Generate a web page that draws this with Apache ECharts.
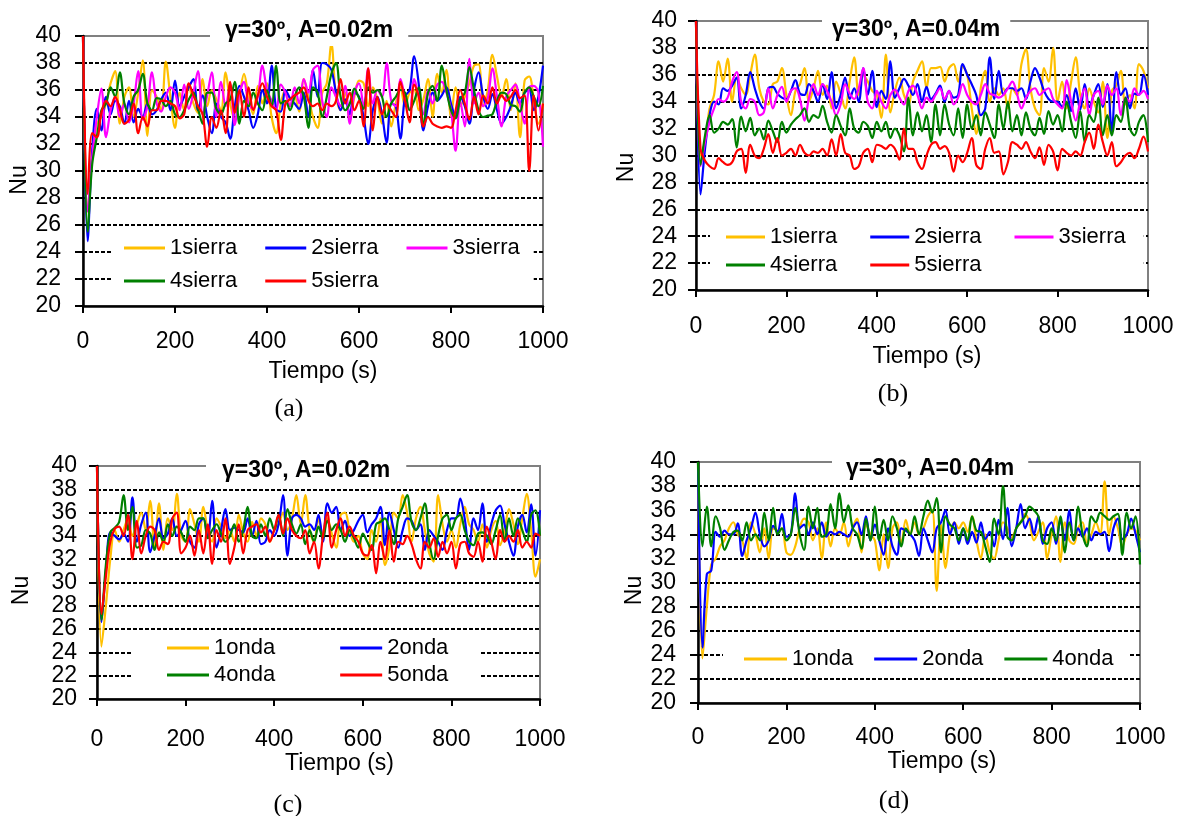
<!DOCTYPE html>
<html>
<head>
<meta charset="utf-8">
<script src="https://cdn.jsdelivr.net/npm/echarts@6/dist/echarts.min.js"></script>
<style>
html,body{margin:0;padding:0;background:#fff;}
#chart{width:1177px;height:816px;}
</style>
</head>
<body>
<div id="chart"></div>
<script>
// ---- sampling times (s) ----
const TIME = Array.from({length: 101}, (_, i) => i * 10);

// ---- axis ticks ----
const X_MIN = 0, X_MAX = 1000, X_STEP = 200;
const Y_MIN = 20, Y_MAX = 40, Y_STEP = 2;

// ---- titles / labels ----
const PANEL_TITLES = ['γ=30º, A=0.02m', 'γ=30º, A=0.04m', 'γ=30º, A=0.02m', 'γ=30º, A=0.04m'];
const PANEL_CAPTIONS = ['(a)', '(b)', '(c)', '(d)'];
const X_NAME = 'Tiempo (s)';
const Y_NAME = 'Nu';
const SIERRA_NAMES = ['1sierra', '2sierra', '3sierra', '4sierra', '5sierra'];
const ONDA_NAMES = ['1onda', '2onda', '4onda', '5onda'];

// ---- (a) sierra, A=0.02m ----
const A_1SIERRA = [
40,27,31,33.5,34,35,36.5,37.4,33.5,35.5,
36.2,34,35.8,38.2,32.6,36,35.5,34.5,38.1,35.5,
33.2,35.8,34.5,36.3,35,34.3,36.8,34.8,36,35.3,
34.5,37.3,35,33.8,35.5,37.2,35.5,34.2,36.3,35,
36.5,34,32.8,35,36,34.8,35.5,34.4,36.8,35.5,
34,33.2,35.8,36.5,39.4,35.5,34.5,35.8,33.7,35.5,
36.7,36.5,34.8,36.2,35.3,33.5,35.2,33.3,35,36.2,
34.8,35.8,36,34.5,35.3,36.8,34,37.2,35.8,37.5,
34,36.2,34.8,35.5,36.5,37.8,37.9,34.8,36,38.6,
37,35.5,36.8,34.5,36.5,32.5,36.7,37,35.3,33.5,
35];
const A_2SIERRA = [
40,24.8,31.5,34.6,33,35.5,34.2,35.2,34.8,33.5,
35.2,33.6,34.6,34,35,34.2,34.5,35.3,35.8,34.5,
36.7,34.8,35.5,36.2,36.8,34.5,35.6,34,32.8,35,
34,33.6,32.4,34.8,36.3,35.5,34.5,33.2,34.2,36,
35,37.8,34.6,34.4,36,35.4,35,34.6,35.8,34,
37.5,35.5,38,37.9,37.5,35.8,34.5,35.3,34.2,35.8,
35.5,34,32,34.5,35.5,34.2,32.1,35,34.8,32.4,
35.5,36,38.5,36.4,33,34.8,35.8,35.2,35.6,36.2,
35,34,35.5,34.8,33.5,36,37.3,35.5,34.6,35.7,
34.5,33.5,34,34.8,35.8,35,35.8,36,34.5,35.5,
37.8];
const A_3SIERRA = [
40,27,31,34,36.1,32.5,34.5,35.5,34,35,
33.6,35,37.4,33.8,34.8,37.3,35,34.4,35.5,36.2,
35.8,34.5,36.4,34.6,35.8,37.4,34.2,35.6,37.3,34,
36.6,34.8,36.4,33.4,35.7,36.6,35,34.6,35.5,37.8,
36,35.2,34.5,36.4,35.8,34.8,36.2,35,36.8,35.8,
37.5,37.8,35.2,34,36.2,35.5,34.8,36.3,33.5,35.8,
36.5,34.8,37.6,35,36,35.5,38,35.2,34.8,36.8,
35.5,34.5,36.8,35.5,34.2,36,35,36.4,36.6,35.8,
34.5,31.5,35.2,33.3,38.3,35,35.8,34.8,35.4,37.6,
35.5,33.3,35.5,36,36.4,35,33.5,36.2,36.3,35.8,
31.8];
const A_4SIERRA = [
40,25.5,30.5,32.5,34.5,35,36.2,35.5,37.3,35,
34.2,35.5,36,37.2,35,34.5,35.4,35.3,34.8,35.2,
34.2,34,34.5,35.3,35.8,34.6,33.5,35.8,35.8,34.6,
34.2,35,35.3,36.6,33.5,35.2,34.8,35.8,35,34.5,
36,34.8,37.8,35,35.2,34.5,35.5,36.2,35.5,33.2,
36.2,35.8,34,35.5,37.2,38,35.5,34.5,35,36.1,
35.4,34.6,36.2,35.8,36,35.5,34,35,35.5,36,
35.8,34.5,35.2,36.2,33.3,35.8,36.3,35.2,37.8,36,
34.5,33.9,35.3,35.8,37.7,36,34.5,34,34.1,34.2,
35.2,35.8,35.7,34.9,34.8,34.4,35.8,36.2,35.5,34.8,
36.3];
const A_5SIERRA = [
40,28.3,32.8,32.5,34.3,35.2,34.8,35.5,34.6,33.5,
33.8,35,32.8,34,33.3,34.5,34.5,35.2,35.2,35,
34.8,33.9,34.2,36.5,35.6,34.8,34.2,31.8,34,33.2,
34.5,32.8,36.6,34.3,36,34,36.2,34.5,35.6,36.5,
35.5,34.8,34.5,32.3,35,35.3,35.6,35.8,36.2,35.2,
34.8,35,34.5,35,34.8,35.2,36.8,35,35.8,34.5,
35.2,33.3,37.6,33,35.5,34.2,35,34.5,34,36.6,
35.2,33.6,36.4,35.5,33.3,34,33.5,33.3,33.2,33.3,
33.2,34.5,36,35,33.8,35.5,34.2,35.6,35,36.2,
35,35.6,35.2,35.5,36,35.4,35.6,30,35.6,33,
35];

// ---- (b) sierra, A=0.04m ----
const B_1SIERRA = [
40,30,31,33.5,34.5,37,35.5,37.2,34,35.8,
35,34.5,36,37.5,35,34,33.8,35.3,35.5,36.5,
34.5,33,34.8,35.3,36.5,34,35,36.3,34.5,35.2,
33.5,35.5,34.6,33.5,35.5,37.3,34.5,36,35.5,34.8,
34.5,32.8,37.5,33.2,34.8,35.8,34.5,33.8,35.5,36.3,
37,35,36.5,36.5,36.6,35.5,36.5,36.8,35.5,36.6,
36,33.5,31.6,35,36.3,34,35,34.5,35,33.5,
35,34.5,36.8,37.9,35,33.5,33,36.5,35.5,38,
34,35.5,33.5,35.5,37.3,34.5,33.5,35,34,33.2,
35.5,31.3,34.8,35.2,36.3,33.8,34.5,33.5,36.8,36.3,
35];
const B_2SIERRA = [
40,27.1,30.5,33,34,33.8,35,34.8,35.2,35.8,
33.5,34.5,36.2,35,34,33.5,35,35.1,34.6,34.3,
34.2,34.8,35.6,34.6,34.5,35.3,34.8,34,35.3,34.2,
36.2,33.5,34.5,35.8,34.2,35,34,36.5,34.5,36.3,
33.6,34.8,34.2,37,34.3,35,35.7,35.2,34.5,35.3,
34,35.1,34.2,34.6,35.2,34,34.8,34.3,34.5,36.8,
36,35.3,34.5,33,33.5,37.3,34.2,36.3,34.5,35,
35,34.8,35,34.2,35.5,36.5,35.8,34.8,34.2,34,
34,33.6,34.5,33.3,35,33.4,35.3,33.6,34.5,35.3,
33.6,35.3,31.8,36.2,34.5,35,33.5,34.6,34.5,36,
34.5];
const B_3SIERRA = [
40,29.2,31,32.5,33.5,34.2,34,34.3,35.5,36.2,
34,33.5,34.2,34,33,33.2,35,33.5,34.5,35.1,
34,34.8,35,34.2,32.6,34.3,35.3,34.5,35.3,34.8,
34,33,33.8,35.3,34.6,34.2,35,36.5,34,33.5,
34.8,34,33.5,34.5,34.9,34.3,33.8,34.8,35.2,34.5,
33.5,34.3,34,34.5,35,34.2,34.8,33.8,34.3,35.3,
34.5,34,33.8,34.5,35.3,34.6,34.5,34.3,34.5,35,
35.5,34.6,33.5,34.3,34.8,35,34.5,34.8,35,34.2,
33.8,33.5,35.6,34,32.6,34,35,33,34.5,34.8,
33.8,35.2,34.5,35,33,34.3,34,35,34.5,34.8,
34.2];
const B_4SIERRA = [
40,29.3,31.5,33,31.7,32,32.5,32.3,32.7,30.6,
32.9,31.8,32.8,31.5,32,31.2,32.6,31.8,31,32.5,
31.7,32.3,32.7,33,33.5,32.5,33,32.8,33.7,32.5,
31.7,33,32.2,31.5,33.5,32,31.7,32.5,32.2,31.3,
32.5,31.8,32.5,31.3,32,31.5,30.3,34.3,31.5,33.2,
31.8,33,31,33.8,31.5,33.8,32.3,31.5,33.5,31.3,
33.8,32,33,31.5,33.2,32.3,31.3,33.8,32,34,
31.8,33,31.5,33.2,32,31.5,32.8,31.6,33.3,32.3,
33,31.8,34,32.5,31.3,33.3,31,33,32.5,34.3,
31.5,33,31.5,33,32.5,34.3,32,31.5,32.5,33,
31];
const B_5SIERRA = [
40,30.5,29.6,29.2,29,29.8,29.5,29.3,29.5,30.3,
30.5,28.7,30.8,30,29.8,30.5,31.6,30.2,31.3,30,
30.2,30.5,30,30.8,30.2,30,30.3,30.2,30.5,30,
31.2,30,31.6,30.2,30,29,29.2,30.2,30.5,29.5,
30.8,30.7,30.5,30.8,30.5,29.7,32,30.5,30.5,29.5,
29,30,30.8,31,30.5,30.7,30.2,28.8,30,29.5,
30.2,31.3,29.3,29,30.5,31.3,30.2,30.3,28.6,29.5,
31,30.8,30.5,31,30.3,29.8,30.6,29.3,30.8,30.3,
28.9,30.5,30.2,30,30.3,30,31,31.7,30.5,32.3,
31,30,31,29.2,29.5,30,30.2,29.8,30.5,31.4,
30.3];

// ---- (c) onda, A=0.02m ----
const C_1ONDA = [
40,24.5,28,32,34.5,33.5,34.5,35.5,34,35,
36,34.5,37,33,36.8,32.8,35.5,34.5,37.6,34,
33.5,36.3,35,33.5,36.5,34.5,33.5,35.5,34.8,33.8,
34.5,33.5,35.8,34.3,33.5,35.2,34,35.5,35,33.5,
34.5,35,36,34.5,35.5,37.5,35,37.5,34.5,33.5,
35.5,34,35.5,34.2,33,35.8,36,34.5,33.5,34,
32.5,32,34.5,33.5,35.5,31.5,33,36,35.5,37.5,
36,33.5,35.5,36.5,34.5,32.5,31.8,37.5,35,33.5,
34.5,33,35,36.5,35,34.5,33.5,35,33,34.5,
35.3,33.2,34.5,36.3,35,33.3,35.5,37.6,34.5,30.5,
32];
const C_2ONDA = [
40,26.6,31,34.3,34,33.7,34.2,33.5,37.3,33.5,
35,36,32.6,34,35.5,33.8,34.2,35.5,34,34.5,
35.3,33.5,33,35,35.5,33.8,37,33,34.5,36.3,
34.5,34.7,34.5,34.3,35.5,34,35.3,33.3,33.5,34.5,
34,35,37.5,32.3,35.5,35.8,35.5,34.8,35,34.5,
35.8,33.5,36.8,36,36.5,34.5,35.3,34,34.5,35.3,
35.8,34.3,35,35.5,36.5,33.2,36,34.5,33,34.5,
35.5,35.3,34.5,35,32.8,34.5,34,33.5,32.8,34.5,
35.5,35.5,37.2,35.5,32.8,35.5,34.5,36.8,33.5,35,
36.2,36.6,35,33.5,32.3,34.8,35.8,34.3,36.7,32.3,
36.2];
const C_4ONDA = [
40,26.8,31.5,34.3,34.7,35.2,37.5,34.5,36.5,33,
33.2,34.5,34.2,32.8,34.3,33.5,35,34,34.8,34.3,
33.5,34.8,34.5,35.5,35.5,33.8,34.5,35,34.2,33.5,
34,35,33.5,34.5,36.5,34,33.8,35,34,35.5,
34.5,35.8,34,36.3,35,34.2,35,33.3,34.5,33.5,
34.8,33.8,35.3,34.5,35,34.5,33.5,34.5,33.8,33,
34.2,33.5,32.8,35,35.2,35.5,34.5,33.3,35.5,36.5,
37.5,35.2,34.5,35.5,36.8,33.5,32,34,35.5,35.8,
34.5,35.5,35.8,34.5,33.5,33.2,34.2,34.3,34,33.3,
34.5,35.8,33.5,35.5,34,35.5,34.5,33.5,35.8,36.2,
34];
const C_5ONDA = [
40,27.3,30.5,33.5,34.6,34.8,34,35.8,32,35.3,
32.5,34,34.8,34.5,32.8,33.5,33.3,35.5,36,32.5,
33,34,32.3,34.5,32.5,35,31.6,34.5,33.5,35.5,
31.6,33,35,32.5,34.5,34.8,35,34.3,34.8,33.5,
34.5,35.8,34.2,35.5,34.5,34,33.8,34.5,32.5,33.5,
31.2,34,36,33,34.5,35.5,34,34.8,34,33.5,
32.5,32.3,33.2,30.8,33.5,32,34.5,31.8,33.5,33.3,
34,33.3,32,31.2,33.5,33,33.8,32.2,33.5,32.5,
33.5,31.2,33.3,33.5,32.5,32.2,33.5,31.8,34.8,33.5,
32,34.5,33.5,34,33.5,34.5,33,33.5,33,34.2,
34];

// ---- (d) onda, A=0.04m ----
const D_1ONDA = [
40,23.7,28,31.5,32,33,33.5,34.5,35,34,
33.5,32,35,34,32.5,34.5,32,34.5,34.3,34.5,
32.5,32.3,33,34.5,35.3,35,33.5,34.5,32,35,
33,34.5,34,35,33,34.5,35.3,32.5,34.8,34,
33.5,31,34,31.2,34.5,35,33.2,35.2,34,35,
34,34.5,35.5,36,29.3,34.8,31.2,34,35,34.5,
35,34.2,35.5,33.5,32,34,32.5,32,33.5,35,
34.5,33.7,34.5,35,35.7,35,33.5,34.2,35,32,
34,35.5,31.7,35,33.5,33.2,34.5,35,33.3,34,
35,34,38.4,34,35.5,34.5,33,34,34.5,34.3,
33.5];
const D_2ONDA = [
40,24.6,30.7,31,34.2,33.8,34.3,34,34,34.9,
32.2,33.5,34.5,35.8,34,33,33.5,34.7,34.2,35.7,
33.8,34,37.4,34.5,34.8,34,35,34,35,33.8,
34.2,34,34.2,34,33.8,34.5,35,34,35.5,33.5,
34.8,33.5,32.3,34.5,33,32.3,34.5,34.3,34,33.5,
32.2,34.5,33.5,32.5,34.5,35,36,34,35,33.2,
34.5,33.2,34.2,33.3,35,33.6,34.2,33,35.2,33.6,
36.2,33,34.5,36.5,34.5,35.3,34,35.5,33.2,34.5,
35,33.2,35.2,33.5,36,33.5,34.5,33.8,34.5,33.5,
34.2,34,34.2,32.6,34.5,35.3,33.6,34,35.3,34,
32.5];
const D_4ONDA = [
40,33,36.3,33,35.5,34.5,32.7,33.5,34.2,34.3,
33.5,35,33.5,34,33.5,35.8,33.5,36.2,34,34.5,
33.5,34,36.2,34,32.7,36.3,34.5,36.2,33.8,34,
36.5,34.5,37.4,35,36.4,34.5,34,32.8,35.3,33.5,
36.3,33.5,35.2,33.5,35.5,34.5,33,34.5,34,35.5,
34,35.5,36.8,35.8,37,32.5,35.5,34.8,34.5,33.5,
34.5,33.5,35.5,34.3,34.2,33,31.7,35.3,34,38,
33.8,33.5,34.5,35,35.5,36.3,36,35.5,33.5,33.2,
34.5,33.5,35.5,32.5,35,33.5,36.3,34,33,35.5,
35,35.8,35.5,35.2,35.5,35.7,32.3,35.8,34.5,35.5,
31.5];

// ---- colours ----
const COL_1 = '#FFC000', COL_2 = '#0000FF', COL_3 = '#FF00FF', COL_4 = '#008000', COL_5 = '#FF0000';

const FONT = "'Liberation Sans', Arial, sans-serif";
const SERIF = "'Liberation Serif', 'Times New Roman', serif";

function pairs(vals) { return vals.map((v, i) => [TIME[i], v]); }

// panel layout
const PANELS = [
  {grid:{left:83, top:36, width:460, height:270}, ylm:22, xlm:24, xnameGap:54, xnamePad:[0,0,0,20], ynameGap:47, ynamePad:[0,18,0,0],
   title:{left:210, top:16, padH:15}, caption:[289,409]},
  {grid:{left:696, top:21, width:452, height:269}, ylm:19, xlm:25, xnameGap:55, xnamePad:[0,0,0,10], ynameGap:58, ynamePad:[0,24,0,0],
   title:{left:822, top:15, padH:10}, caption:[893,394]},
  {grid:{left:97, top:466, width:443, height:233}, ylm:20, xlm:29, xnameGap:48, xnamePad:[0,0,0,42], ynameGap:64, ynamePad:[0,16,0,0],
   title:{left:206, top:456, padH:16}, caption:[288,805]},
  {grid:{left:698, top:462, width:442, height:241}, ylm:22, xlm:23, xnameGap:44, xnamePad:[0,0,0,46], ynameGap:51, ynamePad:[0,16,0,0],
   title:{left:832, top:454, padH:14}, caption:[894,801]}
];

const SERIES_DEF = [
  [[SIERRA_NAMES[0], A_1SIERRA, COL_1], [SIERRA_NAMES[1], A_2SIERRA, COL_2], [SIERRA_NAMES[2], A_3SIERRA, COL_3], [SIERRA_NAMES[3], A_4SIERRA, COL_4], [SIERRA_NAMES[4], A_5SIERRA, COL_5]],
  [[SIERRA_NAMES[0], B_1SIERRA, COL_1], [SIERRA_NAMES[1], B_2SIERRA, COL_2], [SIERRA_NAMES[2], B_3SIERRA, COL_3], [SIERRA_NAMES[3], B_4SIERRA, COL_4], [SIERRA_NAMES[4], B_5SIERRA, COL_5]],
  [[ONDA_NAMES[0], C_1ONDA, COL_1], [ONDA_NAMES[1], C_2ONDA, COL_2], [ONDA_NAMES[2], C_4ONDA, COL_4], [ONDA_NAMES[3], C_5ONDA, COL_5]],
  [[ONDA_NAMES[0], D_1ONDA, COL_1], [ONDA_NAMES[1], D_2ONDA, COL_2], [ONDA_NAMES[2], D_4ONDA, COL_4]]
];

const grids = [], xAxes = [], yAxes = [], series = [], titles = [], graphics = [];

PANELS.forEach((p, k) => {
  grids.push(Object.assign({show:true, borderColor:'#808080', borderWidth:2, backgroundColor:'transparent'}, p.grid));
  xAxes.push({
    gridIndex:k, type:'value', min:X_MIN, max:X_MAX, interval:X_STEP,
    axisLine:{show:true, onZero:false, lineStyle:{color:'#000', width:2.5}},
    axisTick:{show:true, inside:false, length:7, lineStyle:{color:'#000', width:2}},
    axisLabel:{margin:p.xlm, fontSize:23, color:'#000', fontFamily:FONT, formatter:(v) => String(v)},
    splitLine:{show:false},
    name:X_NAME, nameLocation:'middle', nameGap:p.xnameGap,
    nameTextStyle:{fontSize:23, color:'#000', fontFamily:FONT, padding:p.xnamePad}
  });
  yAxes.push({
    gridIndex:k, type:'value', min:Y_MIN, max:Y_MAX, interval:Y_STEP,
    axisLine:{show:true, onZero:false, lineStyle:{color:'#000', width:2.5}},
    axisTick:{show:true, inside:false, length:8, lineStyle:{color:'#000', width:2}},
    axisLabel:{margin:p.ylm, fontSize:23, color:'#000', fontFamily:FONT, formatter:(v) => String(v)},
    splitLine:{show:true, showMinLine:false, showMaxLine:false, lineStyle:{color:'#000', width:1.8, type:[4,2]}},
    name:Y_NAME, nameLocation:'middle', nameGap:p.ynameGap,
    nameTextStyle:{fontSize:23, color:'#000', fontFamily:FONT, padding:p.ynamePad}
  });
  SERIES_DEF[k].forEach(([name, vals, color]) => {
    series.push({
      name, type:'line', xAxisIndex:k, yAxisIndex:k, data:pairs(vals),
      showSymbol:false, symbol:'none', smooth:0.35, clip:true,
      lineStyle:{color, width:2.2}, itemStyle:{color}, z:2
    });
  });
  titles.push({
    text:PANEL_TITLES[k], left:p.title.left, top:p.title.top,
    backgroundColor:'#fff', padding:[3, p.title.padH, 3, p.title.padH],
    textStyle:{fontSize:23, fontWeight:'bold', color:'#000', fontFamily:FONT, lineHeight:24}
  });
  graphics.push({
    type:'text', x:p.caption[0], y:p.caption[1],
    style:{text:PANEL_CAPTIONS[k], fill:'#000', fontSize:26, fontFamily:SERIF, align:'center', verticalAlign:'middle'}
  });
});

function legendRow(names, left, top, gap, iconW, bg, pad) {
  return {
    data:names, left, top, orient:'horizontal', itemGap:gap, itemWidth:iconW, itemHeight:3,
    icon:'rect', selectedMode:false, backgroundColor:bg || 'transparent', padding:pad || 0,
    textStyle:{fontSize:22, color:'#000', fontFamily:FONT, lineHeight:22}
  };
}

const legends = [
  legendRow(SIERRA_NAMES.slice(0,3), 111, 232, 28, 41, '#fff', [5,14,38,13]),
  legendRow(SIERRA_NAMES.slice(3), 124, 270, 28, 41),
  legendRow(SIERRA_NAMES.slice(0,3), 710, 222, 33, 39, '#fff', [4,18,32,16]),
  legendRow(SIERRA_NAMES.slice(3), 726, 254, 33, 39),
  legendRow([ONDA_NAMES[0], ONDA_NAMES[1]], 133, 635, 65, 42, '#fff', [2,32,31,34]),
  legendRow([ONDA_NAMES[2], ONDA_NAMES[3]], 167, 664, 65, 42),
  legendRow(ONDA_NAMES.slice(0,3), 723, 643, 21, 43, '#fff', [5,16,7,21])
];

const chart = echarts.init(document.getElementById('chart'), null, {renderer:'canvas'});
chart.setOption({
  animation:false,
  backgroundColor:'#fff',
  textStyle:{fontFamily:FONT},
  title:titles,
  legend:legends,
  grid:grids,
  xAxis:xAxes,
  yAxis:yAxes,
  series,
  graphic:graphics
});
</script>
</body>
</html>
